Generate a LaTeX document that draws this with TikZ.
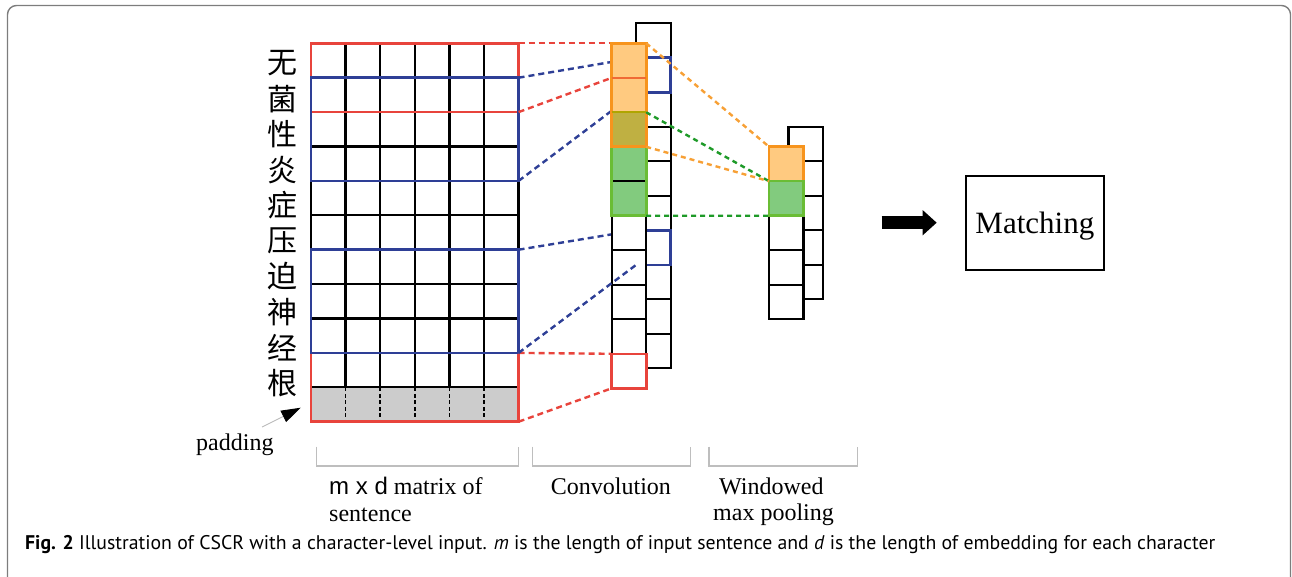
\documentclass[tikz,border=0pt]{standalone}
\usepackage{graphicx}
\usepackage{fontspec}
\setmainfont{Liberation Serif}
\newfontfamily\lsans{Liberation Sans}
\newfontfamily\capfont{PT Sans}
\newfontfamily\cjk{Noto Sans CJK SC}
\usetikzlibrary{arrows.meta}
\definecolor{redc}{RGB}{232,68,60}
\definecolor{bluec}{RGB}{46,63,150}
\definecolor{orangeb}{RGB}{247,148,29}
\definecolor{orangef}{RGB}{255,202,128}
\definecolor{oranged}{RGB}{247,160,53}
\definecolor{olivef}{RGB}{191,176,66}
\definecolor{olivel}{RGB}{175,165,0}
\definecolor{redorange}{RGB}{240,106,53}
\definecolor{greenf}{RGB}{130,203,126}
\definecolor{greenb}{RGB}{106,189,53}
\definecolor{greend}{RGB}{30,154,40}
\definecolor{grayf}{RGB}{204,204,204}
\definecolor{brkgray}{RGB}{190,190,190}
\definecolor{framec}{RGB}{125,125,125}
\definecolor{padline}{RGB}{185,185,185}
\begin{document}
\begin{tikzpicture}[x=1pt,y=-1pt,
  cellc/.style={draw=black, line width=2.1pt, fill=white, minimum width=34.5pt, minimum height=34.5pt, inner sep=0pt, outer sep=0pt},
  gridln/.style={black, line width=2.3pt},
  padgrid/.style={black, line width=1.6pt, dash pattern=on 4pt off 2.5pt},
  redbox/.style={draw=redc, line width=2.6pt},
  bluebox/.style={draw=bluec, line width=2.6pt},
  reddash/.style={redc, line width=2.4pt, dash pattern=on 6pt off 4pt},
  bluedash/.style={bluec, line width=2.4pt, dash pattern=on 6pt off 4pt},
  orgdash/.style={oranged, line width=2.4pt, dash pattern=on 5pt off 4pt},
  grndash/.style={greend, line width=2.4pt, dash pattern=on 5pt off 4pt},
  lab/.style={font=\fontsize{24}{28}\selectfont, inner sep=0pt, anchor=base west},
  brk/.style={draw=brkgray, line width=1.1pt},
  padarrow/.style={padline, line width=0.9pt, -{Triangle[length=19.5pt,width=12.5pt,color=black]}},
  bigarrow/.style={black, line width=12.6pt, -{Triangle[length=14pt,width=24.3pt]}},
  matchbox/.style={draw=black, line width=2.2pt, minimum width=138.3pt, minimum height=94.3pt, inner sep=0pt, text height=27.7pt, text depth=6.7pt, font=\fontsize{31}{36}\selectfont}
]
\useasboundingbox (0,0) rectangle (1292,577);
% frame
\draw[framec, line width=1.4pt, rounded corners=9pt] (7.5,5.5) rectangle (1290.5,586);

% Chinese characters
\foreach \c [count=\k from 0] in {无,菌,性,炎,症,压,迫,神,经,根}
  \node[font=\cjk\fontsize{30}{30}\selectfont, inner sep=0pt] (ch\k) at (282,{63.3+35.5*\k}) {\c};

% matrix
\foreach \j in {0,...,11} {
  \coordinate (mr\j) at (518.6,{43.3+34.4*\j});
  \coordinate (ml\j) at (311,{43.3+34.4*\j});
}
\fill[grayf] (ml10) rectangle (mr11);
\foreach \j in {0,...,10} \draw[gridln] (ml\j) -- (mr\j);
\foreach \i in {0,...,6} \draw[gridln] ({311+34.6*\i},43.3) -- ({311+34.6*\i},387.3);
\foreach \i in {1,...,5} \draw[padgrid] ({311+34.6*\i},387.3) -- ({311+34.6*\i},421.7);
\draw[redbox] (ml0) rectangle (mr2);
\draw[redbox] (ml9) rectangle (mr11);
\draw[bluebox] (ml1) rectangle (mr4);
\draw[bluebox] (ml6) rectangle (mr9);

% conv back column positions
\foreach \i in {0,...,9} \coordinate (cbp\i) at (653.45,{40.55+34.5*\i});

% matrix -> conv connectors (behind the columns)
\draw[reddash] (mr0) -- (611.7,43.3) coordinate (cfnw0);
\draw[reddash] (mr2) -- (611.7,77.8) coordinate (cfnw1);
\draw[reddash] (mr9) -- (611.7,353.8) coordinate (cfnw9);
\draw[reddash] (mr11) -- (611.7,388.3) coordinate (cfsw9);
\draw[bluedash] (mr1) -- (636.2,57.8) coordinate (cbnw1);
\draw[bluedash] (mr4) -- (636.2,92.3) coordinate (cbsw1);
\draw[bluedash] (mr6) -- (636.2,230.3) coordinate (cbnw6);

% conv back column
\foreach \i in {0,...,9} \node[cellc] (cb\i) at (cbp\i) {};
\draw[bluebox] (cb1.north west) rectangle (cb1.south east);
\draw[bluebox] (cb6.north west) rectangle (cb6.south east);

% conv front column
\foreach \i/\f in {0/orangef,1/orangef,2/olivef,3/greenf,4/greenf,5/white,6/white,7/white,8/white,9/white}
  \node[cellc, fill=\f] (cf\i) at (628.95,{60.55+34.5*\i}) {};
\draw[draw=greenb, line width=2.6pt] (cf3.north west) rectangle (cf4.south east);
\draw[draw=orangeb, line width=2.6pt] (cf0.north west) rectangle (cf2.south east);
\draw[redorange, line width=2.4pt] (cf0.south west) -- (cf0.south east);
\draw[olivel, line width=2.4pt] (cf1.south west) -- (cf1.south east);
\draw[redbox] (cf9.north west) rectangle (cf9.south east);

% last blue connector, visible on top
\draw[bluedash] (mr9) -- (cb6.south west);

% pooling columns
\foreach \i in {0,...,4} \node[cellc] (pb\i) at (805.75,{143.95+34.5*\i}) {};
\foreach \i/\f in {0/orangef,1/greenf,2/white,3/white,4/white}
  \node[cellc, fill=\f] (pf\i) at (786.25,{163.95+34.5*\i}) {};
\draw[draw=orangeb, line width=2.6pt] (pf0.north west) rectangle (pf0.south east);
\draw[draw=greenb, line width=2.6pt] (pf1.north west) rectangle (pf1.south east);

% conv -> pool connectors
\draw[orgdash] (cf0.north east) -- (pf0.north west);
\draw[grndash] (cf2.north east) -- (pf1.north west);
\draw[orgdash] (cf2.south east) -- (pf1.north west);
\draw[grndash] (cf4.south east) -- (pf1.south west);

% padding label and arrow
\node[lab] (padl) at (196,450) {padding};
\coordinate (padA) at (262,427);
\coordinate (padB) at (300.7,407.7);
\draw[padarrow] (padA) -- (padB);

% brackets
\draw[brk] (316.7,446.7) |- (518.3,466) -- (518.3,446.7);
\draw[brk] (532.3,446.7) |- (690.7,466) -- (690.7,446.7);
\draw[brk] (709,446.7) |- (857.3,466) -- (857.3,446.7);

% labels
\node[lab] (l1) at (329,494) {{\lsans m x d} matrix of};
\node[lab] (l2) at (329,521.7) {sentence};
\node[lab] (l3) at (550.7,494) {Convolution};
\node[lab] (l4) at (719,494) {Windowed};
\node[lab] (l5) at (713,520) {max pooling};

% arrow and matching
\coordinate (arrS) at (881.7,222.7);
\coordinate (arrE) at (936.7,222.7);
\draw[bigarrow] (arrS) -- (arrE);
\node[matchbox] (match) at (1034.85,222.85) {Matching};

% caption
\node[anchor=base west, inner sep=0pt] (cap) at (25,549.3) {\resizebox{1190pt}{!}{\capfont\fontsize{15}{18}\selectfont\textbf{Fig. 2} Illustration of CSCR with a character-level input. \textit{m} is the length of input sentence and \textit{d} is the length of embedding for each character}};
\end{tikzpicture}
\end{document}
